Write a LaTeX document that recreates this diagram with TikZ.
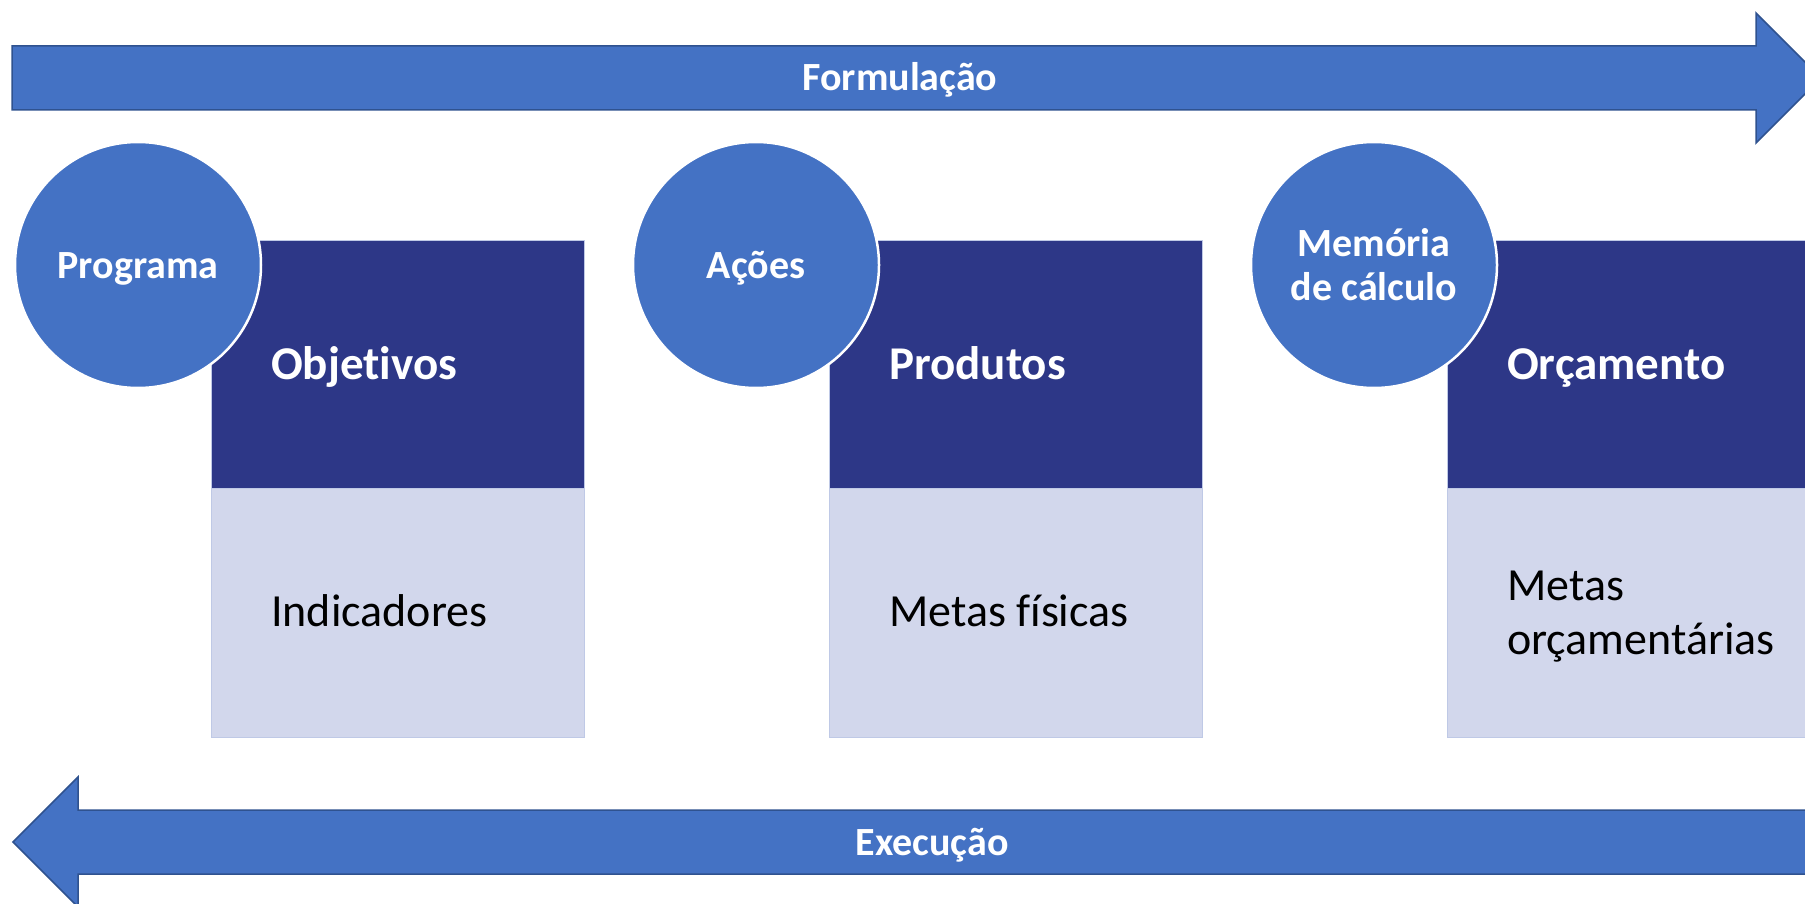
\documentclass[tikz,border=0pt]{standalone}
\usepackage{fontspec}
\setmainfont{Carlito}[Ligatures={NoCommon}]
\definecolor{obblue}{HTML}{4472C4}
\definecolor{obedge}{HTML}{2F528F}
\definecolor{hdrdark}{HTML}{2D3787}
\definecolor{bodylight}{HTML}{D2D7EC}
\definecolor{boxedge}{HTML}{BFC9E6}
\begin{document}
\begin{tikzpicture}[x=1pt,y=-1pt,
  bigarrow/.style={fill=obblue,draw=obedge,line width=1.5pt,line join=miter},
  phase/.style={circle,fill=obblue,draw=white,line width=2.5pt,minimum size=246pt,inner sep=0pt},
  hdr/.style={fill=hdrdark,draw=boxedge,line width=1pt},
  bodybox/.style={fill=bodylight,draw=boxedge,line width=1pt},
  circtxt/.style={text=white,font=\fontsize{40}{44}\selectfont\bfseries,anchor=base,inner sep=0pt},
  arrtxt/.style={text=white,font=\fontsize{40}{44}\selectfont\bfseries,anchor=base,inner sep=0pt},
  hdrtxt/.style={text=white,font=\fontsize{47}{54}\selectfont\bfseries,anchor=base west,inner sep=0pt},
  bodytxt/.style={text=black,font=\fontsize{46}{54}\selectfont,anchor=base west,inner sep=0pt}]
\useasboundingbox (0,0) rectangle (1805,904);
\fill[white] (0,0) rectangle (1805,904);
\clip (0,0) rectangle (1805,904);

% top arrow (Formulacao)
\draw[bigarrow] (12,46) -- (1756,46) -- (1756,13) -- (1821,78) -- (1756,143) -- (1756,110) -- (12,110) -- cycle;
\node[arrtxt] (formul) at (900,91) {Formulação};

% bottom arrow (Execucao)
\draw[bigarrow] (1830,810) -- (78,810) -- (78,777) -- (13,842) -- (78,907) -- (78,874) -- (1830,874) -- cycle;
\node[arrtxt] (exec) at (932,855) {Execução};

% boxes
\foreach \bx/\nm in {211/a,829/b,1447/c}{
  \draw[bodybox] (\bx,488) rectangle ++(373,249);
  \draw[hdr] (\bx,241) rectangle ++(373,247);
}

% circles
\node[phase] (programa) at (138,265) {};
\node[phase] (acoes) at (756,265) {};
\node[phase] (memoria) at (1374,265) {};

\node[circtxt] (tprog) at (138,278) {Programa};
\node[circtxt] (tacoes) at (756,278) {Ações};
\node[circtxt] (tmem1) at (1374,257) {Memória};
\node[circtxt] (tmem2) at (1374,301) {de cálculo};

% box texts
\node[hdrtxt] (objetivos) at (271,379) {Objetivos};
\node[hdrtxt] (produtos) at (889,379) {Produtos};
\node[hdrtxt] (orcamento) at (1507,379) {Orçamento};

\node[bodytxt] (indicadores) at (271,626) {Indicadores};
\node[bodytxt] (metasfis) at (889,626) {Metas físicas};
\node[bodytxt] (metasorc1) at (1507,600) {Metas};
\node[bodytxt] (metasorc2) at (1507,654) {orçamentárias};
\end{tikzpicture}
\end{document}
